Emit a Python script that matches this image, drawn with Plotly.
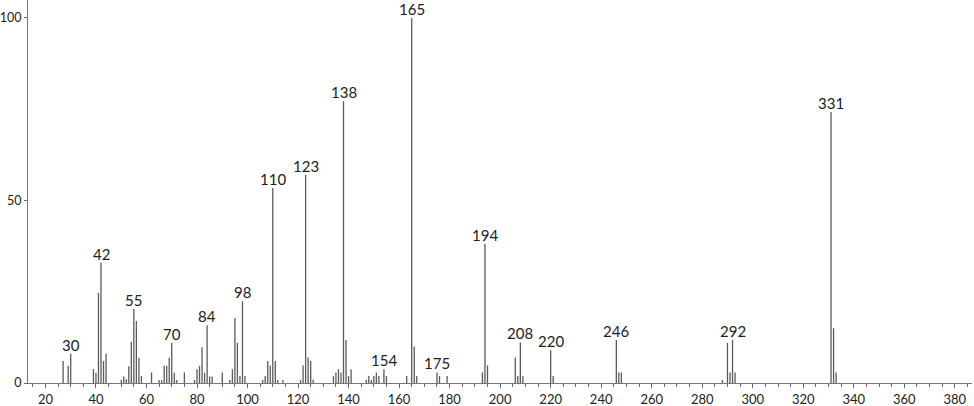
import plotly.graph_objects as go

# m/z values and relative intensities
mz = [27, 29, 30, 39, 40, 41, 42, 43, 44,
      50, 51, 52, 53, 54, 55, 56, 57, 58, 62, 65, 66, 67, 68, 69, 70, 71, 72, 75,
      79, 80, 81, 82, 83, 84, 85, 86, 90, 93, 94, 95, 96, 97, 98, 99,
      106, 107, 108, 109, 110, 111, 112, 114, 121, 122, 123, 124, 125, 126,
      134, 135, 136, 137, 138, 139, 140, 141, 147, 148, 149, 150, 151, 152, 154, 155,
      163, 165, 166, 167, 175, 176, 179,
      193, 194, 195, 206, 207, 208, 209, 220, 221, 246, 247, 248,
      288, 290, 291, 292, 293, 331, 332, 333]
intensity = [6.0, 4.7, 8.0, 3.8, 2.8, 24.7, 33.0, 6.0, 8.0,
             0.9, 1.8, 1.0, 4.6, 11.3, 20.3, 17.0, 6.9, 1.9, 2.9, 0.8, 0.8, 4.7, 4.7, 6.9, 11.0, 2.8, 0.8, 2.9,
             0.8, 3.8, 4.7, 9.8, 2.8, 15.8, 1.8, 1.8, 2.9, 0.8, 3.8, 17.8, 11.0, 1.9, 22.4, 1.9,
             0.8, 1.9, 6.0, 4.8, 53.4, 6.0, 0.8, 0.8, 0.8, 4.8, 57.0, 7.0, 6.0, 0.9,
             1.9, 2.9, 3.8, 2.9, 77.2, 11.8, 1.9, 3.8, 0.8, 1.9, 0.8, 1.9, 2.9, 1.9, 3.8, 1.9,
             1.9, 100.0, 10.0, 1.9, 2.9, 1.9, 1.9,
             2.9, 38.1, 4.8, 7.0, 1.9, 11.1, 1.9, 9.0, 1.9, 11.8, 2.9, 2.9,
             0.8, 11.0, 2.9, 11.8, 2.9, 74.2, 15.0, 2.9]
labeled_peaks = [30, 42, 55, 70, 84, 98, 110, 123, 138, 154, 165, 175, 194, 208, 220, 246, 292, 331]
x_ticks = list(range(20, 381, 20))
y_ticks = [0, 50, 100]

xs, ys = [], []
for m, v in zip(mz, intensity):
    xs += [m, m, None]
    ys += [0, v, None]

fig = go.Figure()
fig.add_trace(go.Scatter(x=xs, y=ys, mode="lines",
                         line=dict(color="#5a5a5a", width=1.3),
                         hoverinfo="skip", showlegend=False))

lookup = dict(zip(mz, intensity))
for m in labeled_peaks:
    fig.add_annotation(x=m, y=lookup[m], text=str(m), showarrow=False,
                       yanchor="bottom", xanchor="center", yshift=-2,
                       font=dict(family="Lato", size=15, color="#222"))

fig.update_layout(
    width=974, height=406,
    margin=dict(l=28, r=2, t=0, b=23, autoexpand=False),
    paper_bgcolor="white", plot_bgcolor="white",
    font=dict(family="Lato", size=13, color="#222"),
)
fig.update_xaxes(range=[13.1, 386.8], tickvals=x_ticks, ticktext=[str(t) for t in x_ticks],
                 ticks="outside", ticklen=4, tickcolor="#666", showline=True,
                 linecolor="#777", linewidth=1, showgrid=False, zeroline=False,
                 automargin=False,
                 minor=dict(dtick=5, tick0=0, ticks="outside", ticklen=3, tickcolor="#666"),
                 tickfont=dict(family="Lato", size=13, color="#222"))
fig.update_yaxes(range=[0, 104.9], tickvals=y_ticks, ticktext=[str(t) for t in y_ticks],
                 ticks="outside", ticklen=3, tickcolor="#666", showline=True,
                 linecolor="#777", linewidth=1, showgrid=False, zeroline=False,
                 automargin=False,
                 tickfont=dict(family="Lato", size=12.5, color="#222"))

fig.write_html("out.html", config={"displayModeBar": False},
               post_script="document.body.style.margin='0';document.body.style.overflow='hidden';")
